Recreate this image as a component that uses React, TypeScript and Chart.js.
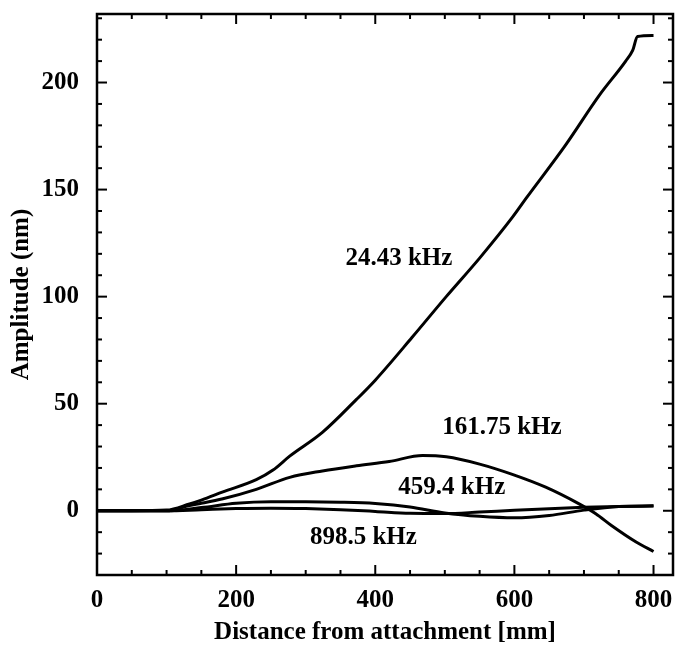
import React, { useEffect, useRef } from "react";
import { Chart, registerables } from "chart.js";

Chart.register(...registerables);

// ---- data ----
const x24 = [0, 50, 100, 133, 150, 181, 229, 253, 277, 324, 373, 400, 453, 502, 550, 597, 617, 674, 722, 760, 770, 777, 800];
const amp24 = [0, 0, 0.3, 3.2, 5, 8.8, 14.5, 19, 25.5, 36.6, 52, 61, 81, 100, 118, 137, 146, 171, 194, 210, 215, 221.5, 222];

const x161 = [0, 100, 133, 150, 181, 229, 277, 324, 373, 420, 468, 502, 550, 597, 645, 693, 717, 740, 775, 800];
const amp161 = [0, 0, 2.5, 3.5, 5.6, 10, 15.6, 18.6, 21, 23, 25.8, 25.2, 21.8, 17, 11, 3.2, -1.4, -7, -14.6, -19];

const x459 = [0, 100, 150, 200, 250, 300, 350, 400, 450, 500, 550, 600, 650, 700, 750, 800];
const amp459 = [0, 0, 1.5, 3.5, 4.2, 4.2, 4.0, 3.4, 1.8, -1.0, -2.6, -3.3, -2.2, 0.3, 2.0, 2.3];

const x898 = [0, 100, 150, 200, 250, 300, 350, 400, 450, 500, 550, 600, 650, 700, 750, 800];
const amp898 = [0, 0, 0.5, 1.0, 1.2, 1.0, 0.5, -0.3, -1.2, -1.3, -0.6, 0.2, 0.9, 1.6, 2.0, 2.2];

const xTickValues = [0, 200, 400, 600, 800];
const yTickValues = [0, 50, 100, 150, 200];

const seriesNames = ["24.43 kHz", "161.75 kHz", "459.4 kHz", "898.5 kHz"];
const labelAtX = [434, 582, 510, 383];
const labelAtY = [118, 39, 11, -12.5];

const xTitle = "Distance from attachment [mm]";
const yTitle = "Amplitude (nm)";

const FONT = "'Liberation Serif', 'Times New Roman', serif";

const toPts = (xs: number[], ys: number[]) => xs.map((v, i) => ({ x: v, y: ys[i] }));

const framePlugin = {
  id: "frame",
  afterDatasetsDraw(chart: any) {
    const { ctx, chartArea, scales } = chart;
    const { left, right, top, bottom } = chartArea;
    const xs = scales.x;
    const ys = scales.y;
    ctx.save();
    ctx.strokeStyle = "#000";
    ctx.lineWidth = 2.5;
    ctx.strokeRect(left, top, right - left, bottom - top);
    ctx.lineWidth = 2;
    const seg = (a: number, b: number, c: number, d: number) => {
      ctx.beginPath();
      ctx.moveTo(a, b);
      ctx.lineTo(c, d);
      ctx.stroke();
    };
    for (let v = 0; v <= xs.max; v += 50) {
      const px = xs.getPixelForValue(v);
      const len = v % 200 === 0 ? 10 : 5;
      seg(px, bottom, px, bottom - len);
      seg(px, top, px, top + len);
    }
    for (let v = Math.ceil(ys.min / 10) * 10; v <= ys.max; v += 10) {
      const py = ys.getPixelForValue(v);
      const len = v % 50 === 0 ? 10 : 5;
      seg(left, py, left + len, py);
      seg(right, py, right - len, py);
    }
    ctx.fillStyle = "#000";
    ctx.font = `bold 25px ${FONT}`;
    ctx.textAlign = "center";
    ctx.textBaseline = "middle";
    seriesNames.forEach((t, i) => {
      ctx.fillText(t, xs.getPixelForValue(labelAtX[i]), ys.getPixelForValue(labelAtY[i]));
    });
    ctx.restore();
  },
};

export default function App() {
  const ref = useRef<HTMLCanvasElement | null>(null);
  useEffect(() => {
    document.body.style.margin = "0";
    if (!ref.current) return;
    const mk = (data: { x: number; y: number }[]) => ({
      data,
      borderColor: "#000",
      borderWidth: 3,
      pointRadius: 0,
      fill: false,
      cubicInterpolationMode: "monotone" as const,
    });
    const chart = new Chart(ref.current, {
      type: "line",
      data: {
        datasets: [
          mk(toPts(x24, amp24)),
          mk(toPts(x161, amp161)),
          mk(toPts(x459, amp459)),
          mk(toPts(x898, amp898)),
        ],
      },
      options: {
        animation: false,
        responsive: false,
        devicePixelRatio: 1,
        layout: { padding: { top: 14, right: 7, left: 0, bottom: 0 } },
        plugins: { legend: { display: false }, tooltip: { enabled: false } },
        scales: {
          x: {
            type: "linear",
            min: 0,
            max: 828,
            grid: { display: false },
            border: { display: false },
            afterBuildTicks: (s: any) => {
              s.ticks = xTickValues.map((v) => ({ value: v }));
            },
            afterFit: (s: any) => {
              s.height = 70;
              s.paddingLeft = 0;
              s.paddingRight = 0;
            },
            ticks: {
              autoSkip: false,
              color: "#000",
              padding: 3,
              maxRotation: 0,
              minRotation: 0,
              font: { family: FONT, size: 25, weight: "bold" },
            },
            title: {
              display: true,
              text: xTitle,
              color: "#000",
              padding: { top: 0, bottom: 0 },
              font: { family: FONT, size: 25, weight: "bold", lineHeight: 1 },
            },
          },
          y: {
            type: "linear",
            min: -30,
            max: 232,
            grid: { display: false },
            border: { display: false },
            afterBuildTicks: (s: any) => {
              s.ticks = yTickValues.map((v) => ({ value: v }));
            },
            afterFit: (s: any) => {
              s.width = 97;
              s.paddingTop = 0;
              s.paddingBottom = 0;
            },
            ticks: {
              autoSkip: false,
              color: "#000",
              padding: 10,
              font: { family: FONT, size: 25, weight: "bold" },
            },
            title: {
              display: true,
              text: yTitle,
              color: "#000",
              padding: { top: 9, bottom: 0 },
              font: { family: FONT, size: 25, weight: "bold", lineHeight: 1 },
            },
          },
        },
      },
      plugins: [framePlugin],
    });
    return () => chart.destroy();
  }, []);
  return (
    <canvas
      ref={ref}
      width={680}
      height={645}
      style={{ display: "block", width: 680, height: 645 }}
    />
  );
}
